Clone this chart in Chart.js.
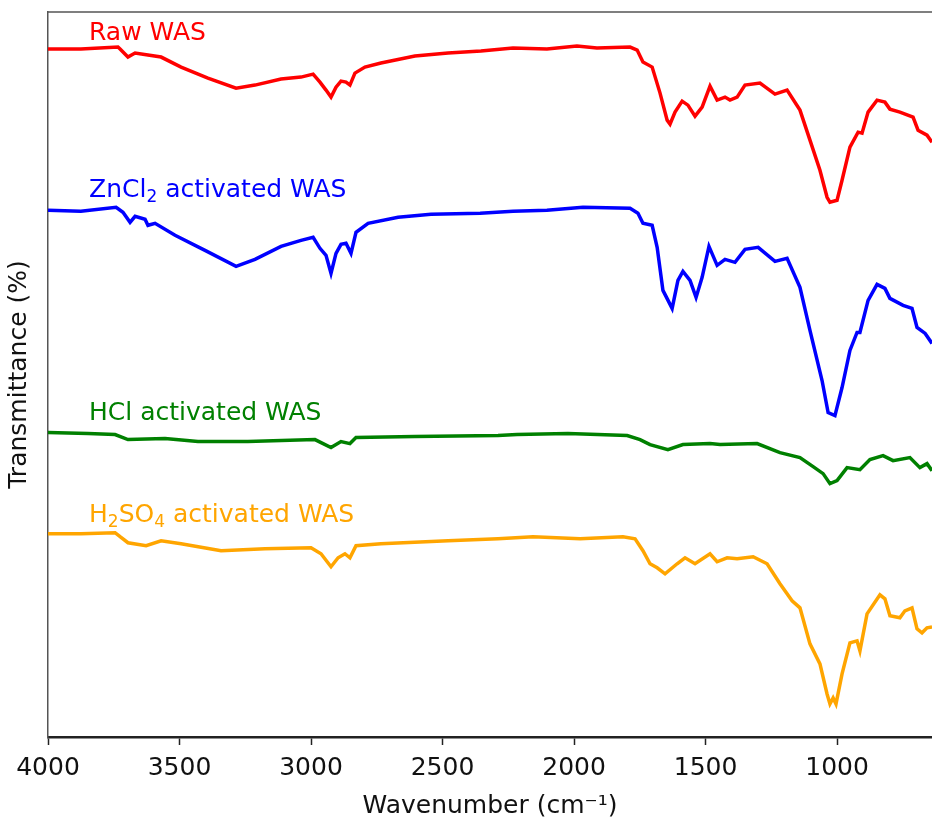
<!DOCTYPE html>
<html>
<head>
<meta charset="utf-8">
<script src="https://cdn.jsdelivr.net/npm/chart.js@4"></script>
<style>
  html, body { margin: 0; padding: 0; background: #fff; }
  #wrap { width: 932px; height: 821px; }
</style>
</head>
<body>
<div id="wrap"><canvas id="ftir"></canvas></div>
<script>
// FTIR spectra, stacked (transmittance offset per sample)
const rawWn = [4000,3875,3734,3726,3696,3669,3620,3570,3494,3392,3285,3213,3114,3038,2992,2966,2943,2924,2905,2886,2867,2852,2833,2795,2734,2605,2479,2354,2232,2103,1989,1913,1787,1760,1738,1703,1673,1646,1635,1616,1589,1567,1540,1513,1483,1456,1426,1407,1380,1350,1293,1236,1190,1141,1103,1065,1038,1027,1000,981,951,920,905,882,848,818,799,761,711,692,658,639];
const rawT = [68.7,68.7,68.9,68.7,67.9,68.3,68.1,67.9,66.9,65.8,64.8,65.1,65.7,65.9,66.2,65.4,64.6,63.9,64.9,65.5,65.4,65.1,66.3,66.9,67.3,68.0,68.3,68.5,68.8,68.7,69.0,68.8,68.9,68.6,67.4,66.9,64.3,61.6,61.2,62.4,63.5,63.1,62.0,62.9,65.0,63.6,63.9,63.6,63.9,65.1,65.3,64.2,64.6,62.6,59.6,56.6,53.9,53.4,53.6,55.6,58.9,60.4,60.3,62.4,63.6,63.4,62.7,62.4,61.9,60.6,60.1,59.4];

const zncl2Wn = [4000,3875,3741,3715,3688,3669,3631,3620,3593,3517,3403,3285,3213,3114,3038,2992,2966,2943,2924,2905,2886,2867,2848,2829,2783,2669,2544,2357,2232,2103,1966,1787,1757,1738,1703,1684,1662,1627,1605,1586,1559,1536,1513,1487,1456,1426,1388,1350,1300,1236,1190,1141,1103,1057,1034,1008,981,951,924,913,882,848,818,799,749,715,696,665,639];
const zncl2T = [52.6,52.5,52.9,52.4,51.4,52.0,51.7,51.1,51.3,50.1,48.6,47.0,47.7,49.0,49.6,49.9,48.8,48.1,46.3,48.3,49.2,49.3,48.3,50.4,51.3,51.9,52.2,52.3,52.5,52.6,52.9,52.8,52.3,51.3,51.1,48.9,44.6,42.8,45.6,46.5,45.6,43.9,45.9,49.0,47.1,47.7,47.4,48.7,48.9,47.5,47.8,44.9,40.6,35.6,32.4,32.1,34.9,38.6,40.4,40.4,43.6,45.2,44.8,43.8,43.1,42.8,40.9,40.3,39.3];

const hclWn = [4000,3848,3745,3696,3555,3430,3240,2985,2924,2886,2852,2829,2605,2289,2217,2023,1798,1749,1711,1643,1586,1483,1445,1304,1217,1141,1091,1053,1027,1000,962,913,875,825,787,723,685,658,639];
const hclT = [30.4,30.3,30.2,29.7,29.8,29.5,29.5,29.7,28.9,29.5,29.3,29.9,30.0,30.1,30.2,30.3,30.1,29.7,29.2,28.7,29.2,29.3,29.2,29.3,28.4,27.9,27.0,26.3,25.3,25.6,26.9,26.7,27.7,28.1,27.6,27.9,26.9,27.3,26.6];

const h2so4Wn = [4000,3875,3745,3726,3696,3627,3570,3494,3342,3175,3000,2962,2924,2897,2871,2852,2829,2734,2479,2289,2156,1977,1814,1768,1738,1711,1684,1654,1608,1578,1540,1483,1456,1418,1380,1319,1266,1217,1171,1141,1103,1065,1038,1027,1015,1004,981,951,924,913,886,837,818,799,761,742,715,696,677,658,639];
const h2so4T = [20.3,20.3,20.4,20.0,19.4,19.1,19.6,19.3,18.6,18.8,18.9,18.3,17.0,17.9,18.3,17.9,19.1,19.3,19.6,19.8,20.0,19.8,20.0,19.8,18.6,17.3,16.9,16.3,17.3,17.9,17.3,18.3,17.5,17.9,17.8,18.0,17.3,15.3,13.6,12.9,9.3,7.3,4.3,3.3,3.9,3.3,6.3,9.4,9.6,8.6,12.3,14.2,13.8,12.1,11.9,12.6,12.9,10.8,10.4,10.9,11.0];

const xTicks = [4000,3500,3000,2500,2000,1500,1000];

// label text parts (sub = subscript) and where they sit
const labels = [
  { parts: [['Raw WAS', false]], color: 'red', wn: 3844, t: 70.3 },
  { parts: [['ZnCl', false], ['2', true], [' activated WAS', false]], color: 'blue', wn: 3844, t: 54.6 },
  { parts: [['HCl activated WAS', false]], color: 'green', wn: 3844, t: 32.3 },
  { parts: [['H', false], ['2', true], ['SO', false], ['4', true], [' activated WAS', false]], color: 'orange', wn: 3844, t: 22.1 }
];

const toPts = (xs, ys) => xs.map((x, i) => ({ x: x, y: ys[i] }));

const FONT = "'DejaVu Sans', sans-serif";

const spinePlugin = {
  id: 'spines',
  afterDraw(chart) {
    const { ctx, chartArea: a, scales } = chart;
    ctx.save();
    ctx.strokeStyle = '#555';
    ctx.lineWidth = 1.5;
    ctx.beginPath();
    ctx.moveTo(a.left, a.top);
    ctx.lineTo(a.right + 2, a.top);
    ctx.stroke();
    ctx.restore();

    // curve labels with subscripts
    ctx.save();
    ctx.textBaseline = 'middle';
    labels.forEach(l => {
      let x = scales.x.getPixelForValue(l.wn);
      const y = scales.y.getPixelForValue(l.t);
      ctx.fillStyle = l.color;
      l.parts.forEach(([txt, sub]) => {
        ctx.font = (sub ? '17px ' : '25px ') + FONT;
        ctx.fillText(txt, x, sub ? y + 7 : y);
        x += ctx.measureText(txt).width;
      });
    });
    ctx.restore();
  }
};

const mk = (label, xs, ys, color) => ({
  label: label,
  data: toPts(xs, ys),
  borderColor: color,
  borderWidth: 3.5,
  pointRadius: 0,
  tension: 0,
  fill: false
});

new Chart(document.getElementById('ftir'), {
  type: 'line',
  data: {
    datasets: [
      mk('Raw WAS', rawWn, rawT, 'red'),
      mk('ZnCl2 activated WAS', zncl2Wn, zncl2T, 'blue'),
      mk('HCl activated WAS', hclWn, hclT, 'green'),
      mk('H2SO4 activated WAS', h2so4Wn, h2so4T, 'orange')
    ]
  },
  options: {
    responsive: true,
    maintainAspectRatio: false,
    animation: false,
    layout: { padding: { left: 0, top: 12, right: 0, bottom: 0 } },
    plugins: { legend: { display: false }, tooltip: { enabled: false } },
    scales: {
      x: {
        type: 'linear',
        reverse: true,
        min: 639,
        max: 4000,
        border: { display: true, color: '#222', width: 2.5 },
        grid: { display: true, drawOnChartArea: false, tickLength: 8, tickColor: '#222', tickWidth: 1.5 },
        afterBuildTicks: s => { s.ticks = xTicks.map(v => ({ value: v })); },
        ticks: { color: '#111', font: { family: FONT, size: 25 }, padding: 8, maxRotation: 0, callback: v => String(v) },
        title: { display: true, text: 'Wavenumber (cm⁻¹)', color: '#111', font: { family: FONT, size: 25 }, padding: { top: 0, bottom: 0 } }
      },
      y: {
        min: 0,
        max: 72.4,
        border: { display: true, color: '#555', width: 1.5 },
        grid: { display: false },
        ticks: { display: false },
        title: { display: true, text: 'Transmittance (%)', color: '#111', font: { family: FONT, size: 25 }, padding: { top: 4, bottom: 6 } }
      }
    }
  },
  plugins: [spinePlugin]
});
</script>
</body>
</html>
